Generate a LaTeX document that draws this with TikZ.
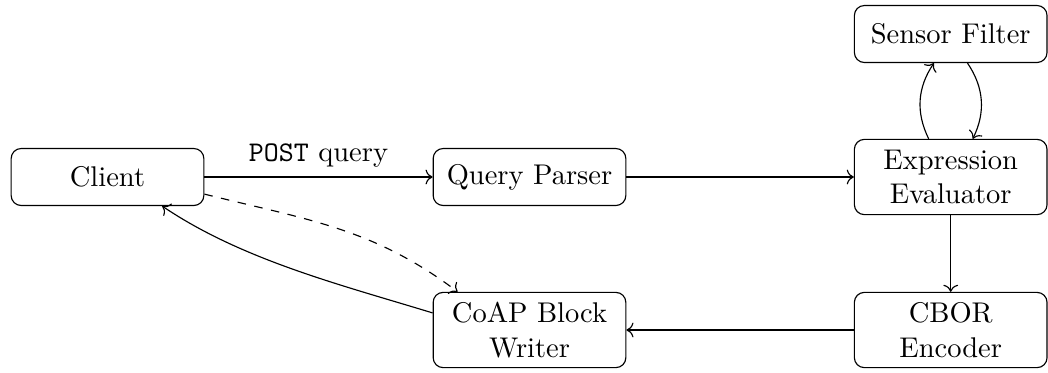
\documentclass[tikz,border=0pt]{standalone}
\usetikzlibrary{arrows.meta}
\begin{document}
\begin{tikzpicture}[x=0.35088pt, y=-0.35088pt,
  box/.style={draw, rounded corners=3.5pt, minimum width=67.6pt, minimum height=20pt, align=center, inner sep=2pt, line width=0.4pt},
  tall/.style={box, minimum height=26.4pt},
  conn/.style={->, line width=0.4pt}]
\useasboundingbox (0,0) rectangle (1048,372);
\node[box]  (client) at (107.5,177) {Client};
\node[box]  (qp)     at (529.5,177) {Query Parser};
\node[tall] (ee)     at (950.7,177) {Expression\\Evaluator};
\node[box]  (sf)     at (950.7,34)  {Sensor Filter};
\node[tall] (cbor)   at (950.7,330) {CBOR\\Encoder};
\node[tall] (coap)   at (529.5,330) {CoAP Block\\Writer};
\draw[conn] (client) -- node[above] {\texttt{POST} query} (qp);
\draw[conn] (qp) -- (ee);
\draw[conn] (ee) to[bend left] (sf);
\draw[conn] (sf) to[bend left] (ee);
\draw[conn] (ee) -- (cbor);
\draw[conn] (cbor) -- (coap);
\draw[conn] (coap.170) to[out=163, in=-34, looseness=0.85] (client.-28);
\draw[conn, dashed] (client.-10) to[out=-14, in=143] (coap.152);
\end{tikzpicture}
\end{document}
